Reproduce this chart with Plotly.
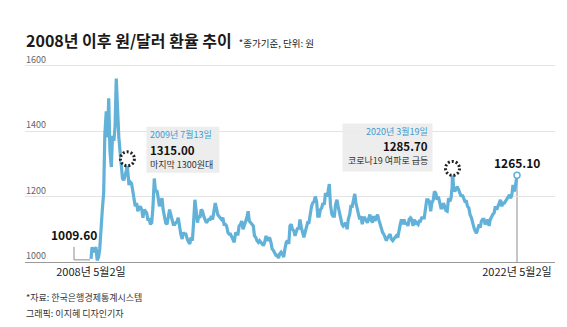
import pandas as pd
import plotly.graph_objects as go

# ---------------- data ----------------
start_date, start_value = "2008-05-02", 1009.6
end_date, end_value = "2022-05-02", 1265.1

# semi-monthly closes (1st and 15th of each month)
rate_2008 = [1045, 1030, 1040, 1045, 1005, 1015, 1040, 1120, 1160, 1210, 1390, 1460, 1380, 1500, 1340]
rate_2009 = [1290, 1385, 1370, 1415, 1560, 1470, 1380, 1340, 1290, 1255, 1250, 1265, 1280, 1285, 1235, 1245, 1240, 1215, 1180, 1170, 1180, 1155, 1165, 1170]
rate_2010 = [1160, 1135, 1160, 1155, 1150, 1130, 1130, 1115, 1120, 1165, 1255, 1215, 1220, 1200, 1170, 1180, 1195, 1160, 1135, 1120, 1115, 1135, 1160, 1145]
rate_2011 = [1130, 1115, 1115, 1120, 1125, 1135, 1100, 1085, 1070, 1090, 1085, 1085, 1070, 1060, 1055, 1075, 1065, 1120, 1190, 1160, 1120, 1140, 1135, 1160]
rate_2012 = [1155, 1140, 1125, 1120, 1125, 1130, 1130, 1140, 1130, 1160, 1180, 1165, 1145, 1140, 1135, 1130, 1135, 1115, 1115, 1110, 1090, 1085, 1085, 1075]
rate_2013 = [1065, 1060, 1090, 1085, 1085, 1110, 1115, 1125, 1100, 1110, 1125, 1135, 1155, 1125, 1120, 1115, 1110, 1080, 1075, 1065, 1060, 1065, 1060, 1055]
rate_2014 = [1050, 1060, 1080, 1065, 1070, 1075, 1060, 1040, 1035, 1025, 1020, 1020, 1012, 1025, 1030, 1025, 1015, 1040, 1060, 1065, 1055, 1110, 1115, 1100]
rate_2015 = [1095, 1080, 1095, 1105, 1100, 1130, 1105, 1090, 1075, 1090, 1110, 1120, 1120, 1145, 1170, 1180, 1185, 1200, 1185, 1140, 1140, 1160, 1165, 1180]
rate_2016 = [1175, 1210, 1200, 1215, 1238, 1175, 1145, 1140, 1140, 1175, 1190, 1170, 1150, 1140, 1115, 1110, 1115, 1120, 1100, 1130, 1145, 1170, 1170, 1185]
rate_2017 = [1208, 1180, 1155, 1145, 1130, 1140, 1115, 1135, 1135, 1125, 1120, 1130, 1145, 1130, 1120, 1140, 1125, 1135, 1145, 1130, 1115, 1105, 1090, 1085]
rate_2018 = [1070, 1065, 1075, 1080, 1085, 1070, 1065, 1070, 1075, 1080, 1075, 1100, 1115, 1130, 1115, 1130, 1115, 1120, 1110, 1130, 1135, 1130, 1110, 1130]
rate_2019 = [1115, 1120, 1115, 1125, 1125, 1135, 1135, 1135, 1165, 1190, 1190, 1185, 1155, 1180, 1190, 1215, 1210, 1190, 1200, 1185, 1165, 1165, 1180, 1170]
rate_2020 = [1157, 1155, 1195, 1185, 1195, 1230, 1225, 1215, 1225, 1230, 1220, 1210, 1200, 1205, 1190, 1185, 1185, 1170, 1165, 1145, 1135, 1115, 1105, 1095]
rate_2021 = [1088, 1100, 1115, 1105, 1125, 1130, 1130, 1115, 1120, 1130, 1110, 1130, 1140, 1145, 1150, 1170, 1160, 1170, 1185, 1190, 1170, 1180, 1180, 1185]
rate_2022 = [1190, 1195, 1205, 1195, 1205, 1235, 1215, 1235]

event_dates = ["2009-07-13", "2020-03-19"]
event_values = [1315.00, 1285.70]
event_notes = ["마지막 1300원대", "코로나19 여파로 급등"]
event_labels = ["2009년 7월13일", "2020년 3월19일"]

y_ticks = [1000, 1200, 1400, 1600]
x_tick_labels = ["2008년 5월2일", "2022년 5월2일"]

# ---------------- build series ----------------
semi_dates = pd.date_range("2008-05-15", "2022-04-15", freq="SMS")
semi_values = (rate_2008 + rate_2009 + rate_2010 + rate_2011 + rate_2012 + rate_2013 + rate_2014
               + rate_2015 + rate_2016 + rate_2017 + rate_2018 + rate_2019 + rate_2020 + rate_2021 + rate_2022)
assert len(semi_dates) == len(semi_values)

s = pd.Series(semi_values, index=semi_dates, dtype=float)
extra = pd.Series([start_value, end_value] + event_values,
                  index=pd.to_datetime([start_date, end_date] + event_dates))
s = pd.concat([s, extra]).sort_index()

# ---------------- layout geometry ----------------
W, H = 567, 327
ml, mr, mt, mb = 25, 12, 60, 65
plot_w = W - ml - mr
plot_h = H - mt - mb
t0, t1 = pd.Timestamp(start_date), pd.Timestamp(end_date)
span = t1 - t0
data_px = 426.0
x_range = [t0 - span * (66 / data_px), t1 + span * (38 / data_px)]
y_range = [1000, 1000 + plot_h / 0.3275]

BLUE = "#62b1d8"
FONT = "Noto Sans CJK KR"

fig = go.Figure()
fig.add_trace(go.Scatter(x=s.index, y=s.values, mode="lines",
                         line=dict(color=BLUE, width=3.2), hoverinfo="skip"))
# end marker
fig.add_trace(go.Scatter(x=[end_date], y=[end_value], mode="markers",
                         marker=dict(symbol="circle", size=6, color="white",
                                     line=dict(color=BLUE, width=1.5)), hoverinfo="skip"))

shapes = []
# vertical line at the end date
shapes.append(dict(type="line", xref="x", yref="y", x0=end_date, x1=end_date,
                   y0=y_ticks[0], y1=end_value, line=dict(color="#8c8c8c", width=1), layer="below"))
# connector for the start label
shapes.append(dict(type="path", xref="x", yref="y", xsizemode="pixel", ysizemode="pixel",
                   xanchor=start_date, yanchor=start_value,
                   path="M -17,12 L -17,-1 L -1,-1", line=dict(color="#8c8c8c", width=1)))
# event boxes and burst markers
box_specs = [(19, 92, 32, -14), (-110, -20, 45, -3)]
for d, v, (bx0, bx1, by1, by0) in zip(event_dates, event_values, box_specs):
    shapes.append(dict(type="rect", xref="x", yref="y", xsizemode="pixel", ysizemode="pixel",
                       xanchor=d, yanchor=v, x0=bx0, x1=bx1, y0=by0, y1=by1,
                       fillcolor="rgba(236,236,236,0.92)", line=dict(width=0), layer="above"))
    shapes.append(dict(type="circle", xref="x", yref="y", xsizemode="pixel", ysizemode="pixel",
                       xanchor=d, yanchor=v, x0=-7, x1=7, y0=-7, y1=7,
                       fillcolor="white", line=dict(color="#222222", width=3, dash="2px,2px")))

ann = []
# title + note
ann.append(dict(xref="paper", yref="paper", x=0, y=(H - mb - 40) / plot_h, xanchor="left", yanchor="middle",
                showarrow=False, borderpad=0,
                text="<b>2008년 이후 원/달러 환율 추이</b>  <span style='font-size:9.5px'>*종가기준, 단위: 원</span>",
                font=dict(family=FONT, size=16, color="#1a1a1a")))
# y tick labels (above gridlines)
for v in y_ticks:
    ann.append(dict(xref="paper", yref="y", x=0, y=v, xanchor="left", yanchor="bottom", yshift=-1,
                    showarrow=False, borderpad=0, text=str(v), font=dict(family=FONT, size=9, color="#666666")))
# start / end labels
ann.append(dict(xref="x", yref="y", x=start_date, y=start_value, xshift=-17, yshift=24,
                xanchor="center", yanchor="middle", showarrow=False, borderpad=0,
                text=f"<b>{start_value:.2f}</b>", font=dict(family=FONT, size=12, color="#111111")))
ann.append(dict(xref="x", yref="y", x=end_date, y=end_value, xshift=0, yshift=13,
                xanchor="center", yanchor="middle", showarrow=False, borderpad=0,
                text=f"<b>{end_value:.2f}</b>", font=dict(family=FONT, size=12, color="#111111")))
# event texts
text_specs = [("left", 22, (24, 9, -6)), ("right", -24, (37, 22, 8))]
for d, v, lab, note, (al, xs, ys) in zip(event_dates, event_values, event_labels, event_notes, text_specs):
    ann.append(dict(xref="x", yref="y", x=d, y=v, xshift=xs, yshift=ys[0], xanchor=al, yanchor="middle",
                    showarrow=False, borderpad=0, text=lab, font=dict(family=FONT, size=9, color="#3d9bd0")))
    ann.append(dict(xref="x", yref="y", x=d, y=v, xshift=xs, yshift=ys[1], xanchor=al, yanchor="middle",
                    showarrow=False, borderpad=0, text=f"<b>{v:.2f}</b>",
                    font=dict(family=FONT, size=11.5, color="#111111")))
    ann.append(dict(xref="x", yref="y", x=d, y=v, xshift=xs, yshift=ys[2], xanchor=al, yanchor="middle",
                    showarrow=False, borderpad=0, text=note, font=dict(family=FONT, size=9, color="#333333")))
# footer
ann.append(dict(xref="paper", yref="paper", x=0, y=(H - mb - 297) / plot_h, xanchor="left", yanchor="middle",
                showarrow=False, borderpad=0, text="*자료: 한국은행경제통계시스템",
                font=dict(family=FONT, size=9, color="#333333")))
ann.append(dict(xref="paper", yref="paper", x=0, y=(H - mb - 313) / plot_h, xanchor="left", yanchor="middle",
                showarrow=False, borderpad=0, text="그래픽: 이지혜 디자인기자",
                font=dict(family=FONT, size=9, color="#333333")))

fig.update_layout(
    width=W, height=H, margin=dict(l=ml, r=mr, t=mt, b=mb),
    paper_bgcolor="white", plot_bgcolor="white", showlegend=False,
    shapes=shapes, annotations=ann,
    font=dict(family=FONT),
    xaxis=dict(range=x_range, showgrid=False, zeroline=False, showline=True, linecolor="#9a9a9a",
               linewidth=1, tickvals=[start_date, end_date], ticktext=x_tick_labels,
               ticks="", tickfont=dict(family=FONT, size=11, color="#222222"), fixedrange=True),
    yaxis=dict(range=y_range, tickvals=y_ticks, showticklabels=False, showgrid=True,
               gridcolor="#e4e4e4", gridwidth=1, zeroline=False, showline=False, fixedrange=True),
)

fig.write_html("out.html")
